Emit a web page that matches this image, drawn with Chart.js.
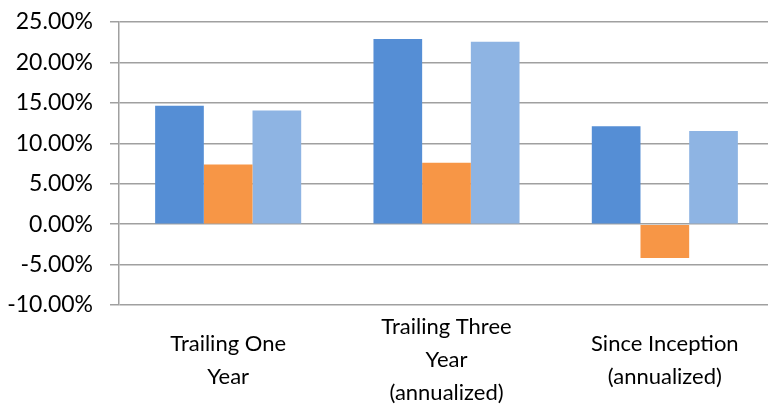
<!DOCTYPE html>
<html>
<head>
<meta charset="utf-8">
<script src="https://cdn.jsdelivr.net/npm/chart.js@4/dist/chart.umd.min.js"></script>
<style>
html,body{margin:0;padding:0;background:#fff;overflow:hidden;}
#wrap{width:768px;height:404px;overflow:hidden;}
</style>
</head>
<body>
<div id="wrap"><canvas id="c" width="774" height="404"></canvas></div>
<script>
const categories = [["Trailing One","Year"],["Trailing Three","Year","(annualized)"],["Since Inception","(annualized)"]];
const seriesA = [14.65, 22.9, 12.1];
const seriesB = [7.37, 7.58, -4.2];
const seriesC = [14.07, 22.55, 11.53];
const yMin = -10, yMax = 25, yStep = 5;

const gridColor = '#a0a0a0';
new Chart(document.getElementById('c'), {
  type: 'bar',
  data: {
    labels: categories,
    datasets: [
      {data: seriesA, backgroundColor: '#558ed5'},
      {data: seriesB, backgroundColor: '#f79646'},
      {data: seriesC, backgroundColor: '#8eb4e3'}
    ]
  },
  options: {
    responsive: false,
    animation: false,
    devicePixelRatio: 1,
    layout: {padding: {top: 22, right: 0, left: 0, bottom: 0}},
    plugins: {legend: {display: false}, tooltip: {enabled: false}},
    datasets: {bar: {barPercentage: 1, categoryPercentage: 0.669}},
    scales: {
      x: {
        grid: {display: false, drawTicks: false},
        border: {display: false},
        ticks: {color: '#000', font: {family: 'Lato', size: 22, lineHeight: 1.5}, padding: 22, maxRotation: 0, autoSkip: false, crossAlign: 'center'},
        afterFit: s => { s.height = 99; s.paddingLeft = 0; s.paddingRight = 0; }
      },
      y: {
        min: yMin, max: yMax,
        grid: {color: gridColor, lineWidth: 1.5, tickLength: 9},
        border: {display: true, color: gridColor, width: 1.5},
        ticks: {stepSize: yStep, color: '#000', font: {family: 'Lato', size: 23}, padding: 17,
          callback: v => v.toFixed(2) + '%'},
        afterFit: s => { s.width = 119; s.paddingTop = 0; s.paddingBottom = 0; }
      }
    }
  }
});
</script>
</body>
</html>
